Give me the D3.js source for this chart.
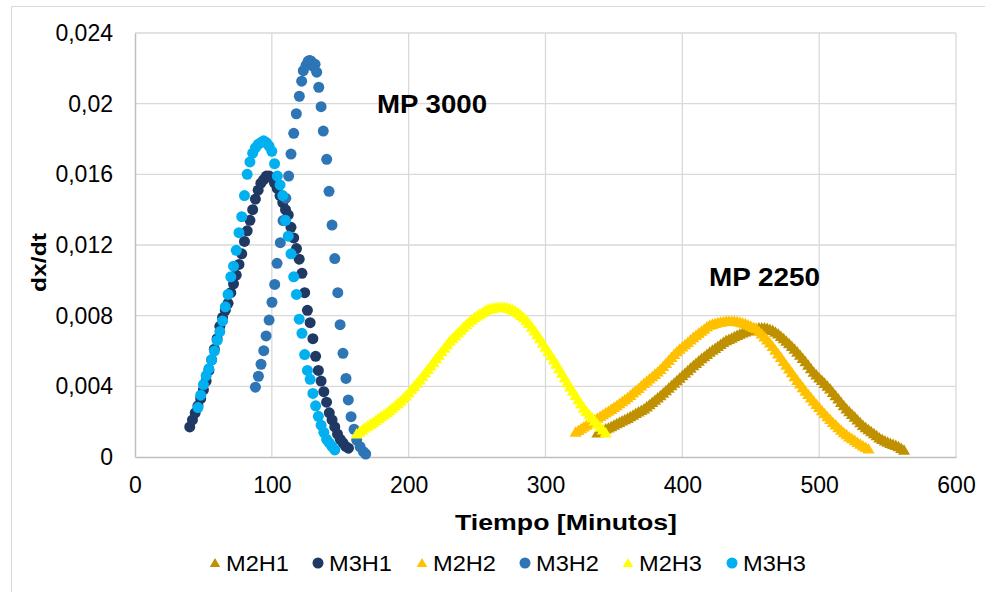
<!DOCTYPE html>
<html>
<head>
<meta charset="utf-8">
<script src="https://cdn.jsdelivr.net/npm/d3@7"></script>
<style>
  body { margin: 0; background: #fff; }
  svg { display: block; font-family: "Liberation Sans", Arial, sans-serif; }
</style>
</head>
<body>
<script>
// series names in the order Excel draws them
const seriesNames = ["M2H1", "M3H1", "M2H2", "M3H2", "M2H3", "M3H3"];
const xTicks = [0, 100, 200, 300, 400, 500, 600];
const yTicks = [0, 0.004, 0.008, 0.012, 0.016, 0.02, 0.024];
const yTickLabels = ["0", "0,004", "0,008", "0,012", "0,016", "0,02", "0,024"];

// [tiempo, dx/dt]
const m2h1 = [[338,.0013],[340,.00138],[342,.00146],[344,.00153],[346,.00159],[348,.00166],[350,.00174],[352,.00182],[354,.0019],[356,.00198],[358,.00205],[360,.00213],[362,.00222],[364,.00231],[366,.0024],[368,.00249],[370,.00257],[372,.00266],[374,.00278],[376,.0029],[378,.00303],[380,.00316],[382,.00328],[384,.00341],[386,.00355],[388,.00369],[390,.00384],[392,.00398],[394,.00412],[396,.00426],[398,.0044],[400,.00454],[402,.00468],[404,.00482],[406,.00497],[408,.00511],[410,.00524],[412,.00537],[414,.0055],[416,.00562],[418,.00575],[420,.00587],[422,.00598],[424,.00609],[426,.0062],[428,.00631],[430,.00642],[432,.00653],[434,.0066],[436,.00667],[438,.00675],[440,.00682],[442,.00689],[444,.00696],[446,.00702],[448,.00707],[450,.00712],[452,.00717],[454,.00721],[456,.00724],[458,.00725],[460,.00724],[462,.00721],[464,.00716],[466,.0071],[468,.00701],[470,.0069],[472,.00677],[474,.00664],[476,.0065],[478,.00635],[480,.0062],[482,.00604],[484,.00588],[486,.0057],[488,.00552],[490,.00533],[492,.00514],[494,.00494],[496,.00474],[498,.00458],[500,.00442],[502,.00427],[504,.00411],[506,.00395],[508,.00379],[510,.0036],[512,.00341],[514,.00322],[516,.00303],[518,.00284],[520,.00266],[522,.0025],[524,.00235],[526,.0022],[528,.00204],[530,.00188],[532,.00172],[534,.0016],[536,.00148],[538,.00137],[540,.00126],[542,.00114],[544,.00102],[546,.00093],[548,.00085],[550,.00078],[552,.00071],[554,.00065],[556,.0006],[558,.00052],[560,.00043],[562,.00032]];

const m3h1 = [[40,.0017],[42,.0021],[44,.0025],[46,.0029],[48,.0033],[50,.0038],[52,.0043],[54,.0049],[56,.0055],[58,.0061],[60,.0067],[62,.0074],[64,.0079],[66,.0083],[68,.0087],[70,.0093],[72,.0098],[74,.0103],[76,.0109],[78,.0115],[80,.0122],[82,.0128],[84,.0134],[86,.014],[88,.0146],[90,.0151],[92,.0155],[94,.0157],[96,.0159],[98,.0159],[100,.0158],[102,.0155],[104,.0152],[106,.0148],[108,.0144],[110,.014],[112,.0137],[114,.013],[116,.0124],[118,.0118],[120,.0112],[122,.0104],[124,.0093],[126,.0083],[128,.0076],[130,.0067],[132,.0057],[134,.0049],[136,.0043],[138,.0037],[140,.0031],[142,.0025],[144,.0021],[146,.0017],[148,.0013],[150,.001],[152,.0008],[154,.0006],[156,.0005]];

const m2h2 = [[322,.00134],[324,.00144],[326,.00154],[328,.00164],[330,.00174],[332,.00184],[334,.00195],[336,.00204],[338,.00214],[340,.00224],[342,.00234],[344,.00244],[346,.00253],[348,.00263],[350,.00274],[352,.00285],[354,.00296],[356,.00307],[358,.00318],[360,.0033],[362,.00343],[364,.00356],[366,.00369],[368,.00382],[370,.00396],[372,.0041],[374,.00423],[376,.00436],[378,.00449],[380,.00462],[382,.00476],[384,.0049],[386,.00507],[388,.00524],[390,.0054],[392,.00557],[394,.00574],[396,.0059],[398,.00604],[400,.00617],[402,.0063],[404,.00643],[406,.00656],[408,.0067],[410,.00682],[412,.00694],[414,.00706],[416,.00718],[418,.0073],[420,.0074],[422,.00745],[424,.0075],[426,.00754],[428,.00757],[430,.0076],[432,.00762],[434,.00763],[436,.00763],[438,.00762],[440,.0076],[442,.00757],[444,.00753],[446,.00748],[448,.00742],[450,.00735],[452,.00727],[454,.0072],[456,.00705],[458,.0069],[460,.00674],[462,.00657],[464,.00639],[466,.0062],[468,.00599],[470,.00578],[472,.00557],[474,.00535],[476,.00514],[478,.00492],[480,.00471],[482,.00449],[484,.00428],[486,.00407],[488,.00387],[490,.00367],[492,.00348],[494,.00329],[496,.0031],[498,.00292],[500,.00274],[502,.00256],[504,.00239],[506,.00222],[508,.00206],[510,.0019],[512,.00175],[514,.0016],[516,.00146],[518,.00132],[520,.0012],[522,.00108],[524,.00097],[526,.00087],[528,.00077],[530,.00067],[532,.00057],[534,.00048],[536,.0004]];

const m3h2 = [[88,.00395],[90.2,.00457],[92.1,.00525],[94.1,.00602],[95.8,.00685],[98,.00775],[100.1,.00876],[102.1,.00977],[103.8,.01096],[106.2,.01213],[108.2,.01338],[110.2,.01465],[112.3,.0159],[114,.01715],[116,.01832],[117.9,.01943],[120.1,.02042],[121.8,.02127],[123,.02187],[125,.02217],[126.5,.0224],[127.5,.02245],[128.5,.02242],[129.5,.0223],[130.5,.0221],[131.6,.02223],[132.8,.02178],[134.3,.02093],[136,.01983],[137.6,.01845],[140.1,.01685],[141.8,.01504],[144,.01313],[146,.01123],[148.2,.0093],[149.9,.00749],[152,.00587],[154.2,.00445],[155.9,.00323],[157.9,.00228],[160.1,.00157],[162,.00096],[164.5,.00058],[166.9,.0003],[168.6,.00017]];

const m2h3 = [[162,.00125],[164,.00136],[166,.00147],[168,.00158],[170,.00168],[172,.00179],[174,.0019],[176,.00201],[178,.00212],[180,.00223],[182,.00234],[184,.00245],[186,.00257],[188,.0027],[190,.00283],[192,.00297],[194,.0031],[196,.00325],[198,.0034],[200,.00358],[202,.00376],[204,.00394],[206,.00412],[208,.0043],[210,.0045],[212,.0047],[214,.0049],[216,.0051],[218,.0053],[220,.0055],[222,.0057],[224,.0059],[226,.0061],[228,.0063],[230,.0065],[232,.00665],[234,.0068],[236,.00696],[238,.00712],[240,.00728],[242,.00743],[244,.00757],[246,.0077],[248,.00782],[250,.00793],[252,.00803],[254,.00812],[256,.00822],[258,.0083],[260,.00834],[262,.00837],[264,.00839],[266,.0084],[268,.0084],[270,.0084],[272,.00837],[274,.00833],[276,.00827],[278,.0082],[280,.00808],[282,.00796],[284,.00782],[286,.00767],[288,.0075],[290,.00729],[292,.00708],[294,.00687],[296,.00664],[298,.0064],[300,.00616],[302,.00592],[304,.00568],[306,.00544],[308,.0052],[310,.00494],[312,.00468],[314,.00442],[316,.00416],[318,.0039],[320,.00366],[322,.00342],[324,.00318],[326,.00294],[328,.0027],[330,.00252],[332,.00234],[334,.00216],[336,.00198],[338,.0018],[340,.00163],[342,.00147],[344,.0013]];

const m3h3 = [[46,.0028],[48,.0035],[50,.0041],[52,.0046],[54,.005],[56,.0055],[58,.006],[60,.0066],[62,.0071],[64,.0077],[66,.0085],[68,.0092],[70,.0102],[72,.0108],[74,.0117],[76,.0127],[78,.0136],[80,.0148],[82,.016],[84,.0167],[86,.0172],[88,.0175],[90,.0177],[92,.0178],[94,.0179],[96,.0178],[98,.0176],[100,.0173],[102,.0166],[104,.0159],[106,.0154],[108,.0148],[110,.0134],[112,.0125],[114,.0115],[116,.0102],[118,.0092],[120,.0078],[122,.007],[124,.0058],[126,.0049],[128,.0044],[130,.0036],[132,.0029],[134,.0023],[136,.0018],[138,.0014],[140,.001],[142,.0008],[144,.0006],[146,.0004]];

const seriesData = [m2h1, m3h1, m2h2, m3h2, m2h3, m3h3];
const seriesColors = ["#bf9000", "#1f3864", "#ffc000", "#2e75b6", "#ffff00", "#00b0f0"];
const seriesShapes = ["triangle", "circle", "triangle", "circle", "triangle", "circle"];

const w = 985, h = 592;
const plotLeft = 135, plotRight = 956, plotTop = 33, plotBottom = 457;

const svg = d3.select("body").append("svg")
  .attr("width", w)
  .attr("height", h);

// chart area border
svg.append("rect")
  .attr("x", 11.5).attr("y", 6.5)
  .attr("width", 1000).attr("height", 620)
  .attr("fill", "none")
  .attr("stroke", "#d9d9d9")
  .attr("stroke-width", 1);

const xScale = d3.scaleLinear().domain([0, 600]).range([plotLeft, plotRight]);
const yScale = d3.scaleLinear().domain([0, 0.024]).range([plotBottom, plotTop]);

// gridlines
svg.append("g").selectAll("line")
  .data(xTicks.slice(1))
  .enter().append("line")
  .attr("x1", d => xScale(d)).attr("x2", d => xScale(d))
  .attr("y1", plotTop).attr("y2", plotBottom)
  .attr("stroke", "#d9d9d9").attr("stroke-width", 1.3);

svg.append("g").selectAll("line")
  .data(yTicks.slice(1))
  .enter().append("line")
  .attr("x1", plotLeft).attr("x2", plotRight)
  .attr("y1", d => yScale(d)).attr("y2", d => yScale(d))
  .attr("stroke", "#d9d9d9").attr("stroke-width", 1.3);

// axes
const xAxis = d3.axisBottom(xScale).tickValues(xTicks).tickSize(0).tickPadding(20);
const gx = svg.append("g")
  .attr("transform", "translate(0," + plotBottom + ")")
  .call(xAxis);
gx.select(".domain").attr("stroke", "#bfbfbf").attr("stroke-width", 1.5);
gx.selectAll("text").attr("font-size", 23).attr("fill", "#000")
  .attr("font-family", "Liberation Sans, Arial, sans-serif");

const yAxis = d3.axisLeft(yScale).tickValues(yTicks).tickSize(0).tickPadding(22)
  .tickFormat((d, i) => yTickLabels[i]);
const gy = svg.append("g")
  .attr("transform", "translate(" + plotLeft + ",0)")
  .call(yAxis);
gy.select(".domain").attr("stroke", "#bfbfbf").attr("stroke-width", 1.5);
gy.selectAll("text").attr("font-size", 23).attr("fill", "#000")
  .attr("font-family", "Liberation Sans, Arial, sans-serif");

// markers
const tri = d3.symbol().type(d3.symbolTriangle).size(64);

seriesData.forEach((data, i) => {
  const g = svg.append("g").attr("class", "series-" + seriesNames[i]);
  if (seriesShapes[i] === "circle") {
    g.selectAll("circle")
      .data(data)
      .enter().append("circle")
      .attr("cx", d => xScale(d[0]))
      .attr("cy", d => yScale(d[1]))
      .attr("r", 5.5)
      .attr("fill", seriesColors[i]);
  } else {
    g.selectAll("path")
      .data(data)
      .enter().append("path")
      .attr("d", tri)
      .attr("transform", d => "translate(" + xScale(d[0]) + "," + yScale(d[1]) + ")")
      .attr("fill", seriesColors[i]);
  }
});

// axis titles
svg.append("text")
  .attr("x", 455)
  .attr("y", 530)
  .attr("font-size", 22)
  .attr("font-weight", "bold")
  .attr("textLength", 222)
  .attr("lengthAdjust", "spacingAndGlyphs")
  .text("Tiempo [Minutos]");

svg.append("text")
  .attr("transform", "translate(46,292) rotate(-90)")
  .attr("font-size", 21)
  .attr("font-weight", "bold")
  .attr("textLength", 59)
  .attr("lengthAdjust", "spacingAndGlyphs")
  .text("dx/dt");

// annotations
svg.append("text")
  .attr("x", 377).attr("y", 113)
  .attr("font-size", 25)
  .attr("font-weight", "bold")
  .attr("textLength", 110)
  .attr("lengthAdjust", "spacingAndGlyphs")
  .text("MP 3000");

svg.append("text")
  .attr("x", 709).attr("y", 286)
  .attr("font-size", 25)
  .attr("font-weight", "bold")
  .attr("textLength", 111)
  .attr("lengthAdjust", "spacingAndGlyphs")
  .text("MP 2250");

// legend
const legendX = [215, 318, 422, 525, 628, 732];
const legend = svg.append("g").attr("transform", "translate(0,563)");
seriesNames.forEach((name, i) => {
  const item = legend.append("g").attr("transform", "translate(" + legendX[i] + ",0)");
  if (seriesShapes[i] === "circle") {
    item.append("circle").attr("cx", 0).attr("cy", 0).attr("r", 5.5).attr("fill", seriesColors[i]);
  } else {
    item.append("path")
      .attr("d", d3.symbol().type(d3.symbolTriangle).size(48))
      .attr("transform", "translate(0,1)")
      .attr("fill", seriesColors[i]);
  }
  item.append("text")
    .attr("x", 11).attr("y", 8)
    .attr("font-size", 22)
    .attr("textLength", 63)
    .attr("lengthAdjust", "spacingAndGlyphs")
    .text(name);
});
</script>
</body>
</html>
